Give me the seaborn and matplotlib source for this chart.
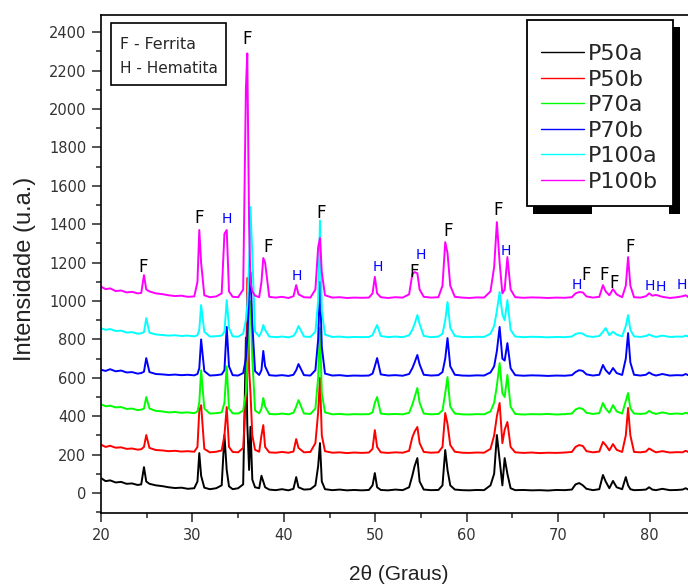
import seaborn as sns
import pandas as pd
import matplotlib.pyplot as plt
from matplotlib.patches import Rectangle
from matplotlib.transforms import IdentityTransform


# 2theta grid shared by all samples (segments A..G2)
two_theta = (
    [20.0, 20.5, 21.0, 21.6, 22.2, 22.8, 23.4, 24.0, 24.4, 24.7, 24.95, 25.3, 26.0, 26.7, 27.4, 28.1, 28.8, 29.5, 30.2]
    + [30.55, 30.75, 30.95, 31.3, 31.9, 32.6, 33.2, 33.5, 33.75, 34.0, 34.4, 35.0]
    + [35.55, 35.85, 36.0, 36.2, 36.35, 36.55, 36.85, 37.3, 37.55, 37.75, 37.95, 38.4]
    + [39.1, 39.8, 40.5, 41.05, 41.35, 41.6, 42.2, 42.9, 43.45, 43.75, 43.95, 44.15, 44.5, 45.3, 46.1, 46.9, 47.7, 48.5]
    + [49.3, 49.7, 49.95, 50.2, 50.6, 51.4, 52.2, 53.0, 53.7, 54.05, 54.3, 54.6, 54.85, 55.3, 56.1, 56.9, 57.35, 57.65, 57.9, 58.2, 58.7, 59.5]
    + [60.3, 61.1, 61.9, 62.6, 63.0, 63.3, 63.6, 63.9, 64.15, 64.45, 64.8, 65.3, 66.2, 67.1, 68.0, 68.9, 69.8, 70.7]
    + [71.5, 71.9, 72.3, 72.7, 73.1, 73.8, 74.5, 74.9, 75.2, 75.6, 76.0, 76.4, 77.0, 77.4, 77.65, 77.9, 78.3]
    + [79.0, 79.6, 79.95, 80.3, 80.7, 81.4, 82.2, 83.0, 83.6, 83.95, 84.3, 85.0, 86.0, 87.0, 88.0, 89.0, 90.0]
)

p50a = (
    [78, 62, 66, 55, 58, 48, 50, 42, 45, 135, 60, 48, 40, 36, 30, 26, 28, 22, 25]
    + [60, 208, 90, 28, 20, 25, 40, 302, 120, 35, 20, 25]
    + [45, 810, 360, 120, 345, 70, 30, 25, 90, 60, 30, 18]
    + [15, 20, 14, 22, 83, 30, 18, 20, 40, 140, 260, 60, 20, 15, 18, 14, 16, 14]
    + [16, 40, 104, 30, 16, 14, 18, 15, 30, 90, 140, 182, 60, 18, 15, 16, 40, 224, 120, 40, 18, 15]
    + [14, 16, 15, 40, 100, 302, 170, 40, 182, 100, 25, 15, 16, 14, 15, 13, 16, 15]
    + [18, 45, 52, 40, 22, 15, 20, 94, 60, 25, 63, 30, 20, 83, 40, 20, 15]
    + [16, 18, 30, 18, 15, 22, 15, 16, 18, 25, 16, 15, 14, 15, 14, 15, 14]
)

p50b = (
    [252, 240, 246, 236, 238, 230, 232, 226, 228, 240, 302, 235, 224, 222, 218, 220, 216, 218, 215]
    + [240, 430, 458, 230, 212, 215, 222, 300, 448, 240, 214, 212]
    + [235, 500, 1120, 640, 520, 300, 225, 215, 300, 354, 240, 212]
    + [210, 214, 210, 216, 281, 235, 212, 214, 260, 420, 600, 300, 218, 210, 212, 208, 211, 209]
    + [211, 230, 328, 240, 212, 209, 212, 210, 220, 290, 320, 344, 260, 214, 210, 212, 240, 417, 360, 250, 215, 210]
    + [209, 211, 210, 230, 300, 400, 469, 260, 330, 370, 240, 212, 209, 211, 208, 210, 209, 211]
    + [214, 240, 250, 245, 218, 212, 216, 266, 250, 222, 255, 225, 214, 300, 443, 300, 214]
    + [212, 216, 232, 222, 212, 218, 211, 213, 212, 220, 212, 210, 211, 209, 210, 209, 210]
)

p70a = (
    [462, 452, 455, 446, 448, 438, 440, 432, 434, 440, 500, 440, 428, 425, 420, 422, 418, 420, 416]
    + [425, 470, 640, 440, 414, 416, 420, 470, 660, 440, 415, 414]
    + [430, 520, 680, 960, 1000, 700, 430, 415, 440, 495, 450, 412]
    + [410, 414, 410, 418, 450, 484, 414, 412, 440, 600, 860, 520, 420, 410, 412, 409, 411, 410]
    + [411, 420, 470, 500, 414, 410, 412, 410, 418, 460, 500, 547, 470, 414, 410, 412, 430, 520, 604, 450, 414, 410]
    + [409, 411, 410, 425, 470, 560, 677, 520, 500, 615, 450, 412, 409, 411, 410, 412, 409, 411]
    + [414, 435, 443, 438, 418, 412, 416, 469, 440, 418, 458, 425, 414, 480, 521, 440, 414]
    + [412, 415, 428, 418, 412, 420, 412, 414, 412, 418, 412, 410, 411, 409, 410, 409, 410]
)

p70b = (
    [642, 636, 645, 634, 638, 628, 630, 622, 625, 632, 703, 630, 620, 618, 615, 617, 614, 616, 613]
    + [620, 650, 800, 635, 612, 614, 618, 640, 865, 660, 614, 612]
    + [625, 700, 800, 1050, 1150, 880, 635, 615, 640, 740, 660, 614]
    + [611, 614, 610, 616, 640, 672, 614, 612, 640, 800, 1100, 760, 622, 612, 614, 610, 612, 611]
    + [612, 622, 660, 703, 618, 612, 614, 611, 620, 650, 680, 719, 670, 616, 612, 614, 630, 700, 807, 660, 616, 612]
    + [611, 613, 612, 628, 660, 740, 865, 700, 690, 781, 650, 614, 611, 613, 612, 610, 612, 611]
    + [614, 630, 640, 636, 618, 612, 616, 667, 640, 620, 651, 625, 615, 700, 833, 680, 616]
    + [612, 616, 628, 618, 612, 620, 612, 614, 613, 620, 612, 611, 612, 610, 611, 610, 611]
)

p100a = (
    [858, 850, 854, 844, 846, 836, 838, 830, 832, 838, 911, 835, 826, 823, 820, 822, 818, 820, 816]
    + [822, 850, 979, 840, 815, 817, 820, 840, 1005, 860, 816, 814]
    + [830, 900, 980, 1200, 1490, 1240, 840, 816, 840, 875, 850, 815]
    + [812, 815, 811, 818, 840, 870, 815, 813, 840, 1000, 1420, 950, 825, 813, 815, 811, 813, 812]
    + [813, 822, 850, 875, 818, 812, 815, 812, 822, 850, 880, 927, 880, 818, 812, 815, 830, 900, 995, 860, 818, 813]
    + [812, 814, 813, 830, 870, 950, 1047, 930, 900, 1005, 850, 815, 812, 814, 813, 811, 813, 812]
    + [815, 828, 833, 830, 818, 813, 818, 840, 859, 822, 840, 825, 816, 870, 927, 850, 816]
    + [813, 818, 826, 818, 813, 820, 813, 815, 814, 820, 813, 812, 813, 811, 812, 811, 812]
)

p100b = (
    [1075, 1062, 1066, 1052, 1055, 1045, 1048, 1040, 1042, 1135, 1060, 1050, 1040, 1036, 1030, 1026, 1028, 1022, 1024]
    + [1100, 1370, 1200, 1030, 1020, 1024, 1040, 1350, 1370, 1050, 1022, 1020]
    + [1060, 2110, 2290, 1390, 1100, 1050, 1028, 1020, 1100, 1224, 1200, 1022]
    + [1018, 1022, 1016, 1025, 1083, 1035, 1020, 1018, 1060, 1280, 1328, 1150, 1030, 1018, 1020, 1016, 1018, 1017]
    + [1018, 1040, 1126, 1040, 1020, 1016, 1020, 1018, 1035, 1140, 1151, 1145, 1060, 1022, 1018, 1020, 1080, 1307, 1250, 1080, 1022, 1018]
    + [1016, 1019, 1018, 1050, 1177, 1411, 1200, 1040, 1060, 1229, 1060, 1020, 1017, 1019, 1018, 1016, 1018, 1017]
    + [1020, 1040, 1047, 1045, 1024, 1018, 1022, 1083, 1050, 1030, 1062, 1035, 1020, 1080, 1229, 1080, 1020]
    + [1018, 1025, 1040, 1028, 1032, 1022, 1016, 1020, 1025, 1030, 1018, 1017, 1018, 1016, 1017, 1016, 1017]
)

amostras = ['P50a', 'P50b', 'P70a', 'P70b', 'P100a', 'P100b']
cores = ['#000000', '#ff0000', '#00ff00', '#0000ff', '#00ffff', '#ff00ff']

# phase labels above the peaks (F = ferrita, H = hematita)
pico_x = [24.6, 30.75, 33.75, 36.0, 38.3, 41.4, 44.1, 50.3, 54.2, 54.95, 57.95, 63.4, 64.3,
          72.0, 73.1, 75.0, 76.15, 77.9, 80.0, 81.2, 83.55]
pico_y = [1177, 1432, 1427, 2364, 1281, 1130, 1458, 1179, 1153, 1240, 1365, 1474, 1262,
          1083, 1135, 1135, 1092, 1283, 1078, 1071, 1083]
pico_txt = ['F', 'F', 'H', 'F', 'F', 'H', 'F', 'H', 'F', 'H', 'F', 'F', 'H',
            'H', 'F', 'F', 'F', 'F', 'H', 'H', 'H']


series = [p50a, p50b, p70a, p70b, p100a, p100b]
frames = []
for nome, vals in zip(amostras, series):
    frames.append(pd.DataFrame({'theta': two_theta, 'intensidade': vals, 'amostra': nome}))
df = pd.concat(frames, ignore_index=True)

sns.set_theme(style='ticks')
plt.rcParams['font.family'] = ['DejaVu Sans']

fig = plt.figure(figsize=(6.88, 5.87), dpi=100)
ax = fig.add_axes([101 / 688, 74 / 587, 640 / 688, 498 / 587])

sns.lineplot(data=df, x='theta', y='intensidade', hue='amostra', hue_order=amostras,
             palette=cores, estimator=None, sort=False, linewidth=1.4, ax=ax)

ax.set_xlim(20, 90)
ax.set_ylim(-104, 2490)
ax.set_xticks(range(20, 81, 10))
ax.set_xticks(range(25, 90, 10), minor=True)
ax.set_yticks(range(0, 2401, 200))
ax.set_yticks(range(-100, 2500, 200), minor=True)

ax.tick_params(which='major', direction='out', length=6.5, width=1.1, labelsize=10.5,
               pad=4, labelcolor='#333333')
ax.tick_params(which='minor', direction='out', length=3.5, width=1.1)
ax.spines['right'].set_visible(False)
for s in ['left', 'top', 'bottom']:
    ax.spines[s].set_linewidth(1.2)
    ax.spines[s].set_color('black')

ax.set_xlabel('2θ (Graus)', fontsize=15, color='#222222', family='Liberation Sans')
ax.xaxis.set_label_coords(0.466, -0.104)
ax.set_ylabel('Intensidade (u.a.)', fontsize=17, color='#222222', family='Liberation Sans')
ax.yaxis.set_label_coords(-0.1016, 0.491)

for x, y, t in zip(pico_x, pico_y, pico_txt):
    if t == 'F':
        ax.text(x, y, t, ha='center', va='center', fontsize=12, color='black', zorder=5)
    else:
        ax.text(x, y, t, ha='center', va='center', fontsize=10, color='#0000ff', zorder=5)

# key box for the phase letters
ax.add_patch(Rectangle((0.0156, 0.8594), 0.1797, 0.1246, transform=ax.transAxes,
                       fc='white', ec='black', lw=1.2, zorder=6))
ax.text(0.0297, 0.9317, 'F - Ferrita', transform=ax.transAxes, ha='left', va='baseline',
        fontsize=11.4, zorder=7)
ax.text(0.0297, 0.8835, 'H - Hematita', transform=ax.transAxes, ha='left', va='baseline',
        fontsize=11.1, zorder=7)

handles, labels = ax.get_legend_handles_labels()
leg = ax.legend(handles, labels, loc='upper left', bbox_to_anchor=(527 / 688, 1 - 20 / 587),
                bbox_transform=fig.transFigure, frameon=True, fancybox=False, edgecolor='black',
                framealpha=1, fontsize=16, handlelength=1.9, handletextpad=0.2,
                borderpad=0.65, labelspacing=0.25, borderaxespad=0,
                title=' ', title_fontsize=2)
leg.get_frame().set_linewidth(1.3)
for h in leg.get_lines():
    h.set_linewidth(1.0)

# black drop shadow of the legend box
fig.canvas.draw()
bb = leg.get_window_extent()
for r in [(bb.x1, bb.y0 - 8, 7, bb.height + 1),
          (bb.x0 + 6, bb.y0 - 8, 59, 8),
          (bb.x1 - 4, bb.y0 - 8, 4, 8)]:
    fig.add_artist(Rectangle((r[0], r[1]), r[2], r[3], transform=IdentityTransform(),
                             fc='black', ec='none', zorder=3))

fig.savefig('out.png', dpi=100)
